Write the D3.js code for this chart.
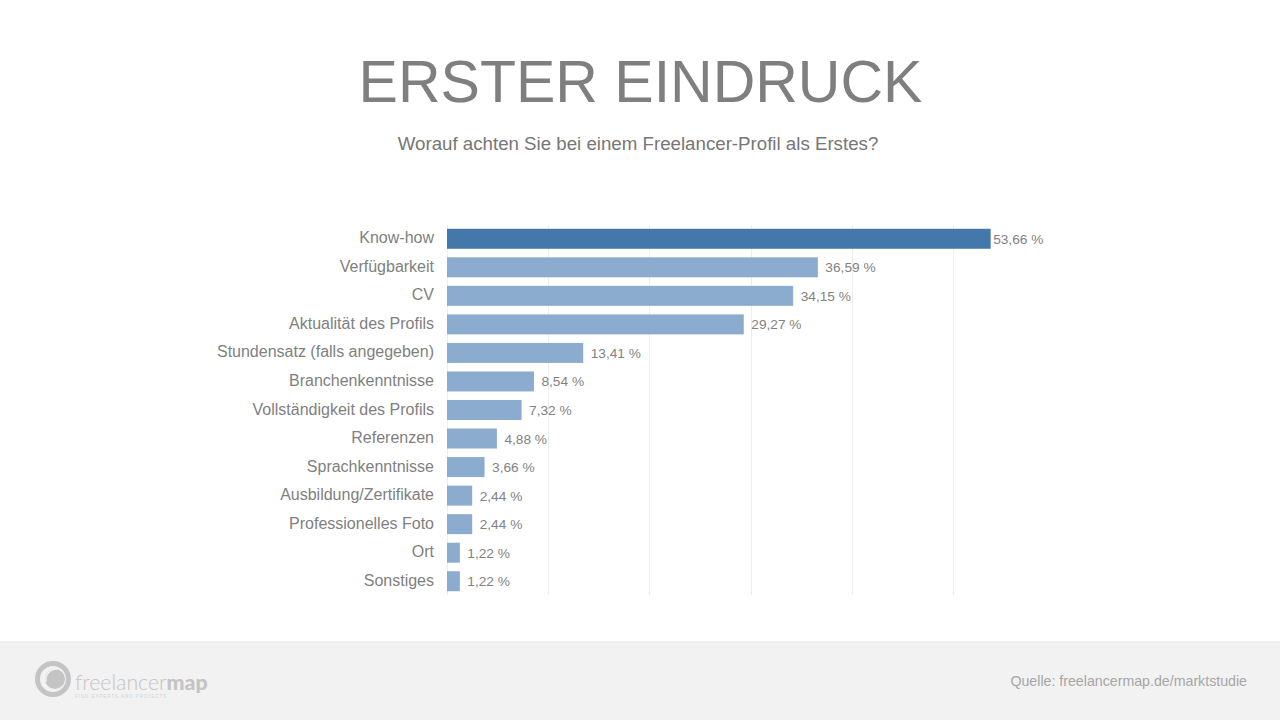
<!DOCTYPE html>
<html>
<head>
<meta charset="utf-8">
<script src="https://cdn.jsdelivr.net/npm/d3@7"></script>
<style>
body { margin: 0; background: #fff; }
text { font-family: "Liberation Sans", Arial, sans-serif; }
</style>
</head>
<body>
<svg id="chart" width="1280" height="720"></svg>
<script>
// Werte aus der Grafik
var daten = [
    { name: "Know-how", wert: 53.66, farbe: "#4477AA" },
    { name: "Verfügbarkeit", wert: 36.59, farbe: "#8BABCF" },
    { name: "CV", wert: 34.15, farbe: "#8BABCF" },
    { name: "Aktualität des Profils", wert: 29.27, farbe: "#8BABCF" },
    { name: "Stundensatz (falls angegeben)", wert: 13.41, farbe: "#8BABCF" },
    { name: "Branchenkenntnisse", wert: 8.54, farbe: "#8BABCF" },
    { name: "Vollständigkeit des Profils", wert: 7.32, farbe: "#8BABCF" },
    { name: "Referenzen", wert: 4.88, farbe: "#8BABCF" },
    { name: "Sprachkenntnisse", wert: 3.66, farbe: "#8BABCF" },
    { name: "Ausbildung/Zertifikate", wert: 2.44, farbe: "#8BABCF" },
    { name: "Professionelles Foto", wert: 2.44, farbe: "#8BABCF" },
    { name: "Ort", wert: 1.22, farbe: "#8BABCF" },
    { name: "Sonstiges", wert: 1.22, farbe: "#8BABCF" }
];

const svg = d3.select("#chart");

const x = d3.scaleLinear().domain([0, 50]).range([447.5, 953.6]);
const y = d3.scaleBand()
    .domain(daten.map(d => d.name))
    .range([224.5, 595.5])
    .paddingInner(0.3)
    .paddingOuter(0.15);

// Titel
svg.append("text")
    .attr("x", 640.5).attr("y", 102)
    .attr("text-anchor", "middle")
    .attr("font-size", 59)
    .attr("fill", "#7F7F7F")
    .text("ERSTER EINDRUCK");

svg.append("text")
    .attr("x", 638).attr("y", 150)
    .attr("text-anchor", "middle")
    .attr("font-size", 18.7)
    .attr("fill", "#767676")
    .text("Worauf achten Sie bei einem Freelancer-Profil als Erstes?");

// Gitterlinien
svg.append("g")
    .selectAll("line")
    .data(x.ticks(5))
    .enter().append("line")
    .attr("x1", d => Math.floor(x(d)) + 0.5)
    .attr("x2", d => Math.floor(x(d)) + 0.5)
    .attr("y1", 225)
    .attr("y2", 595)
    .attr("stroke", "#EDEDED")
    .attr("stroke-width", 1);

// Balken
svg.append("g")
    .selectAll("rect")
    .data(daten)
    .enter().append("rect")
    .attr("x", 447)
    .attr("y", d => y(d.name))
    .attr("width", d => x(d.wert) - 447)
    .attr("height", y.bandwidth())
    .attr("fill", d => d.farbe);

// Beschriftung links
svg.append("g")
    .selectAll("text")
    .data(daten)
    .enter().append("text")
    .attr("x", 434)
    .attr("y", d => y(d.name) + y.bandwidth() / 2 + 4.5)
    .attr("text-anchor", "end")
    .attr("font-size", 16)
    .attr("fill", "#7F7F7F")
    .text(d => d.name);

// Werte rechts
svg.append("g")
    .selectAll("text")
    .data(daten)
    .enter().append("text")
    .attr("x", (d, i) => x(d.wert) + (i == 0 ? 2.5 : 7.5))
    .attr("y", d => y(d.name) + y.bandwidth() / 2 + 5)
    .attr("font-size", 13.7)
    .attr("fill", "#828282")
    .text(d => d.wert.toFixed(2).replace(".", ",") + " %");

// Fusszeile
svg.append("rect")
    .attr("x", 0).attr("y", 641)
    .attr("width", 1280).attr("height", 79)
    .attr("fill", "#F2F2F2");

svg.append("text")
    .attr("x", 1247).attr("y", 686)
    .attr("text-anchor", "end")
    .attr("font-size", 14.2)
    .attr("fill", "#A6A6A6")
    .text("Quelle: freelancermap.de/marktstudie");

// Logo
const logo = svg.append("g");
logo.append("circle").attr("cx", 53).attr("cy", 679).attr("r", 15.5)
    .attr("fill", "none").attr("stroke", "#C4C4C4").attr("stroke-width", 5);
logo.append("circle").attr("cx", 55).attr("cy", 679).attr("r", 10).attr("fill", "#C4C4C4");
logo.append("path")
    .attr("d", "M46 682 A11 11 0 0 1 58 669")
    .attr("fill", "none").attr("stroke", "#F2F2F2").attr("stroke-width", 1.5);

const logoText = logo.append("text")
    .attr("x", 75).attr("y", 690)
    .attr("font-size", 21.3)
    .attr("fill", "#C4C4C4");
logoText.append("tspan").attr("font-family", "Lato").attr("font-weight", 300).text("freelancer");
logoText.append("tspan").attr("font-family", "Lato").attr("font-weight", 900).text("map");

logo.append("text")
    .attr("x", 75).attr("y", 698)
    .attr("font-size", 4.5)
    .attr("letter-spacing", 0.95)
    .attr("fill", "#D2D2D2")
    .text("FIND EXPERTS AND PROJECTS");
</script>
</body>
</html>
